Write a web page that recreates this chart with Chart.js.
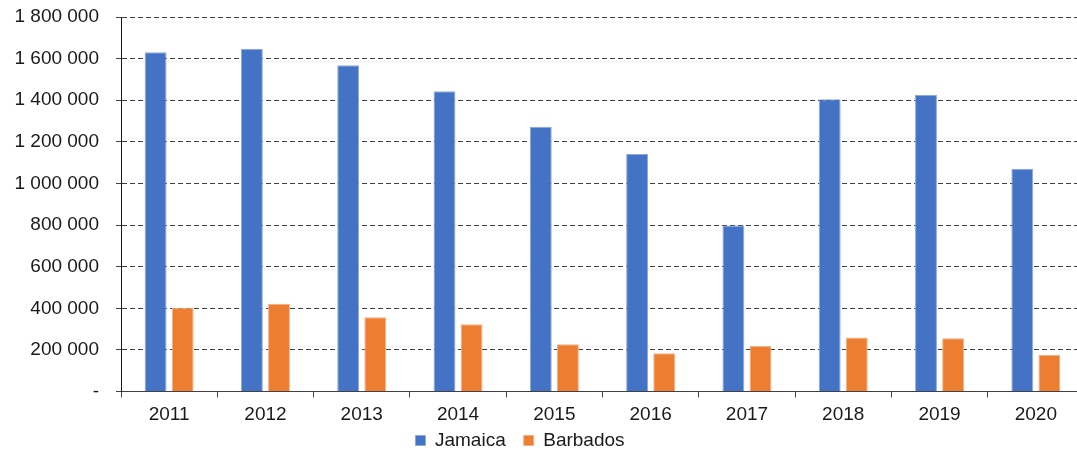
<!DOCTYPE html>
<html>
<head>
<meta charset="utf-8">
<script src="https://cdn.jsdelivr.net/npm/chart.js@4/dist/chart.umd.min.js"></script>
<style>
  html, body { margin: 0; padding: 0; overflow: hidden; background: #fff; }
  #wrap { width: 1100px; height: 452px; }
</style>
</head>
<body>
<div id="wrap"><canvas id="chart" width="1100" height="452"></canvas></div>
<script>
// Visitor arrivals per year
const years = ['2011', '2012', '2013', '2014', '2015', '2016', '2017', '2018', '2019', '2020'];
const jamaica = [1631000, 1647000, 1568000, 1443000, 1272000, 1142000, 798000, 1405000, 1425000, 1071000];
const barbados = [403000, 422000, 357000, 323000, 227000, 184000, 219000, 259000, 256000, 175000];
const yTickMax = 1800000;
const yTickStep = 200000;

const FONT = { family: '"Liberation Sans", Arial, sans-serif', size: 19 };
const TEXT = '#1a1a1a';

// thousands grouped with spaces, zero shown as a dash
function fmt(v) {
  if (v === 0) return '-';
  return String(v).replace(/\B(?=(\d{3})+(?!\d))/g, ' ');
}

// pull the legend up so it sits close under the year labels
const legendNudge = {
  id: 'legendNudge',
  afterLayout(chart) {
    const lg = chart.legend;
    if (lg) { lg.top -= 12.5; lg.bottom -= 12.5; }
  }
};

new Chart(document.getElementById('chart'), {
  type: 'bar',
  data: {
    labels: years,
    datasets: [
      { label: 'Jamaica', data: jamaica, backgroundColor: '#4472C4', borderColor: '#8EA8DD', borderWidth: 1 },
      { label: 'Barbados', data: barbados, backgroundColor: '#ED7D31', borderColor: '#F4B184', borderWidth: 1 }
    ]
  },
  plugins: [legendNudge],
  options: {
    responsive: false,
    animation: false,
    devicePixelRatio: 1,
    categoryPercentage: 0.563,
    barPercentage: 0.808,
    layout: { padding: { top: 17, bottom: -20.5, left: -44, right: 16 } },
    plugins: {
      tooltip: { enabled: false },
      legend: {
        position: 'bottom',
        labels: { boxWidth: 10, boxHeight: 10, padding: 18, color: TEXT, font: FONT }
      }
    },
    scales: {
      x: {
        grid: { display: true, drawOnChartArea: false, drawTicks: true, tickLength: 6, tickColor: '#404040', offset: true },
        border: { display: true, color: '#404040', width: 1 },
        ticks: { color: TEXT, font: FONT, padding: 6, maxRotation: 0 },
        afterFit(scale) { scale.height = 34; }
      },
      y: {
        min: 0,
        max: yTickMax,
        grid: { color: '#404040', lineWidth: 1, tickLength: 5, tickColor: '#404040' },
        border: { display: true, color: '#1a1a1a', width: 1, dash: [5, 3] },
        ticks: { stepSize: yTickStep, color: TEXT, font: FONT, padding: 17, callback: (v) => fmt(v) },
        afterFit(scale) {
          scale.width = 165;
          scale.paddingTop = 0;
          scale.paddingBottom = 0;
        }
      }
    }
  }
});
</script>
</body>
</html>
